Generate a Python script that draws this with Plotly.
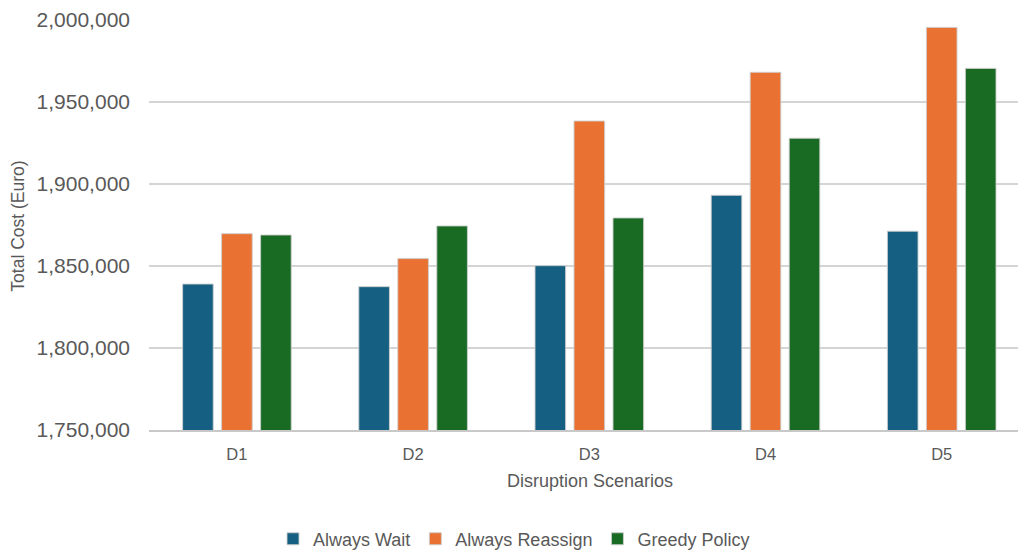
import plotly.graph_objects as go

# Total cost per disruption scenario for each dispatch policy
scenarios = ["D1", "D2", "D3", "D4", "D5"]
always_wait = [1839000, 1837400, 1850200, 1893100, 1871200]
always_reassign = [1869700, 1854500, 1938400, 1968100, 1995500]
greedy_policy = [1868900, 1874400, 1879300, 1927900, 1970500]

series_names = ["Always Wait", "Always Reassign", "Greedy Policy"]
series_colors = ["#156082", "#E97132", "#196B24"]

y_ticks = [1750000, 1800000, 1850000, 1900000, 1950000, 2000000]

FONT = "Liberation Sans, Arial, sans-serif"
TEXT_GRAY = "#595959"

fig = go.Figure()
for name, values, color in zip(series_names,
                               [always_wait, always_reassign, greedy_policy],
                               series_colors):
    fig.add_trace(go.Bar(
        x=list(range(len(scenarios))),
        y=values,
        name=name,
        marker=dict(color=color, line=dict(color="rgba(205,205,205,0.9)", width=1)),
    ))

fig.update_layout(
    width=1018,
    height=550,
    margin=dict(l=149, r=0, t=20, b=120, autoexpand=False),
    paper_bgcolor="white",
    plot_bgcolor="white",
    barmode="group",
    bargap=0.336,
    bargroupgap=0.215,
    font=dict(family=FONT, color=TEXT_GRAY),
    showlegend=True,
    legend=dict(
        orientation="h",
        x=(514 - 149) / 869, xanchor="center",
        y=-0.266, yanchor="middle",
        font=dict(size=18, color=TEXT_GRAY, family=FONT),
        itemclick=False,
    ),
    xaxis=dict(
        range=[-0.499, 4.433],
        tickmode="array",
        tickvals=list(range(len(scenarios))),
        ticktext=scenarios,
        tickfont=dict(size=16.5, color=TEXT_GRAY),
        showgrid=False,
        showline=True,
        linecolor="#c8c8c8",
        linewidth=1.5,
        ticks="",
        zeroline=False,
        automargin=False,
        ticklabelstandoff=8,
    ),
    yaxis=dict(
        range=[1750000, 2000000],
        tickmode="array",
        tickvals=y_ticks,
        ticktext=[f"{v:,}" for v in y_ticks],
        tickfont=dict(size=21, color=TEXT_GRAY),
        showgrid=True,
        gridcolor="#d4d4d4",
        gridwidth=1.5,
        zeroline=False,
        showline=False,
        ticks="",
        automargin=False,
        ticklabelstandoff=18,
    ),
    annotations=[
        dict(
            text="Total Cost (Euro)",
            xref="paper", yref="paper",
            x=-0.1507, y=0.496,
            xanchor="center", yanchor="middle",
            textangle=-90,
            showarrow=False,
            font=dict(size=17.5, color=TEXT_GRAY, family=FONT),
        ),
        dict(
            text="Disruption Scenarios",
            xref="paper", yref="paper",
            x=(590 - 149) / 869, y=-0.124,
            xanchor="center", yanchor="middle",
            showarrow=False,
            font=dict(size=18, color=TEXT_GRAY, family=FONT),
        ),
    ],
)

fig.write_html("out.html")
